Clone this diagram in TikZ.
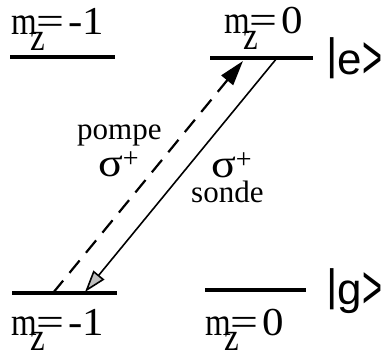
\documentclass[tikz,border=0pt]{standalone}
\usepackage{fontspec}
\usepackage{graphicx}
\setmainfont{Liberation Serif}
\newfontfamily\sansf{Liberation Sans}
\usetikzlibrary{arrows.meta}
\newcommand\mzlab[1]{\scalebox{1}[1.2]{m\kern-0.2em\rlap{\raisebox{-0.4em}{z}}\kern0.2em\scalebox{1.5}[1]{=}\kern0.1em\scalebox{1.3}[1]{#1}}}
\newcommand\sigp{\scalebox{1.15}[1]{\fontsize{40}{40}\selectfont σ}\raisebox{9pt}{\fontsize{28}{28}\selectfont +}}
\newcommand\ketr{\raisebox{-4pt}{\scalebox{0.78}[1.4]{>}}}
\begin{document}
\begin{tikzpicture}[x=1pt,y=-1pt,
  level/.style={line width=3.8pt},
  lbl/.style={font=\fontsize{33}{33}\selectfont, inner sep=0pt, anchor=base west},
  ket/.style={font=\sansf\fontsize{44}{44}\selectfont, inner sep=0pt, anchor=base west},
  txt/.style={font=\fontsize{31}{31}\selectfont, inner sep=0pt, anchor=base west},
  pump/.style={line width=2.2pt, dash pattern=on 16pt off 10pt, -{Triangle[length=25pt,width=15pt]}},
  probe/.style={line width=1.6pt, -{Triangle[length=22pt,width=14pt,fill=gray!50]}}]
\useasboundingbox (0,0) rectangle (386,350);
% levels
\coordinate (eL1) at (10,57);  \coordinate (eL2) at (115,57);
\coordinate (eR1) at (210,58); \coordinate (eR2) at (313,58);
\coordinate (gL1) at (12,293); \coordinate (gL2) at (117,293);
\coordinate (gR1) at (205,290); \coordinate (gR2) at (306,290);
\draw[level] (eL1) -- (eL2);
\draw[level] (eR1) -- (eR2);
\draw[level] (gL1) -- (gL2);
\draw[level] (gR1) -- (gR2);
% labels
\node[lbl] (l1) at (11,35) {\mzlab{-1}};
\node[lbl] (l2) at (224,34) {\mzlab{0}};
\node[lbl] (l3) at (11,335) {\mzlab{-1}};
\node[lbl] (l4) at (205,335) {\mzlab{0}};
\node[ket] (ke) at (326,75) {\raisebox{5pt}{|}e\ketr};
\node[ket] (kg) at (326,305) {\raisebox{5pt}{|}g\ketr};
% transitions
\coordinate (pS) at (53,293); \coordinate (pE) at (243,61);
\coordinate (sS) at (277,58); \coordinate (sE) at (85,292);
\draw[pump] (pS) -- (pE);
\draw[probe] (sS) -- (sE);
\node[txt] (pompe) at (77,140) {pompe};
\node[txt] (s1) at (98,177) {\sigp};
\node[txt] (s2) at (211,178) {\sigp};
\node[txt] (sonde) at (191,203) {sonde};
\end{tikzpicture}
\end{document}
